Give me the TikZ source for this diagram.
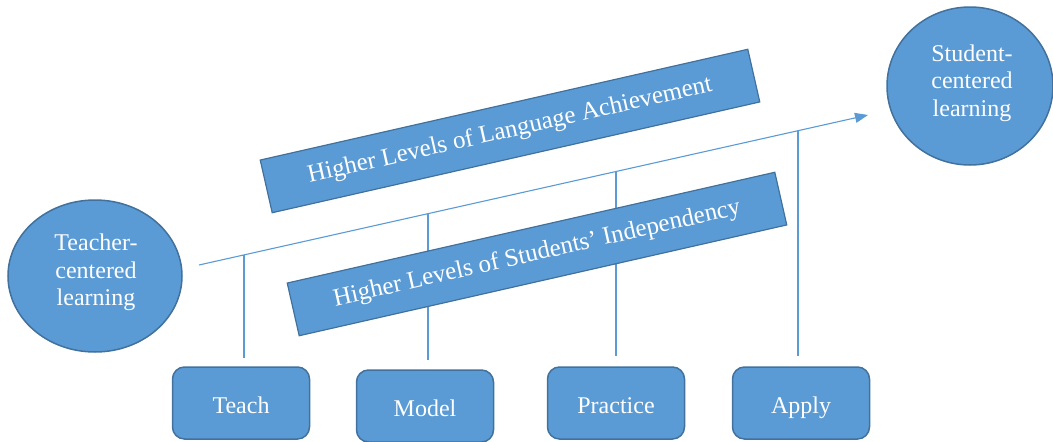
\documentclass[tikz,border=0pt]{standalone}
\usepackage{fontspec}
\setmainfont{Liberation Serif}
\usetikzlibrary{shapes.geometric,arrows.meta,calc}
\definecolor{fillblue}{HTML}{5B9BD5}
\definecolor{edgeblue}{HTML}{41719C}
\begin{document}
\begin{tikzpicture}[x=1pt,y=-1pt,
  every node/.style={font=\fontsize{24}{27.5}\selectfont, text=white},
  oval/.style={ellipse, fill=fillblue, draw=edgeblue, line width=1.5pt, inner sep=0pt, align=center},
  banner/.style={rectangle, fill=fillblue, draw=edgeblue, line width=1.2pt, minimum width=500pt, minimum height=54pt, inner sep=0pt, rotate=12.8, font=\fontsize{25}{28}\selectfont},
  stepbox/.style={rectangle, rounded corners=12pt, fill=fillblue, draw=edgeblue, line width=1.5pt, minimum width=137pt, minimum height=72pt, inner sep=0pt, text height=22pt, text depth=1pt},
  link/.style={draw=fillblue, line width=1.1pt}]
\useasboundingbox (0,0) rectangle (1053,442);
% circles
\node[oval, minimum width=174pt, minimum height=152pt] (tcl) at (95,276) {};
\node[align=center] (tclt) at (96,272.5) {Teacher-\\centered\\learning};
\node[oval, minimum width=166pt, minimum height=158pt] (scl) at (970,86) {};
\node[align=center] (sclt) at (972,83) {Student-\\centered\\learning};
% boxes
\node[stepbox] (teach) at (241,403) {Teach};
\node[stepbox] (model) at (425,406) {Model};
\node[stepbox] (practice) at (616,403) {Practice};
\node[stepbox] (apply) at (801,403) {Apply};
% arrow
\coordinate (a0) at (199,265);
\coordinate (a1) at (868,115);
\draw[link, -{Triangle[length=13pt,width=10pt]}] (a0) -- (a1);
% vertical connectors
\coordinate (p1) at ($(a0)!0.0673!(a1)$);
\coordinate (p2) at ($(a0)!0.3423!(a1)$);
\coordinate (p3) at ($(a0)!0.6233!(a1)$);
\coordinate (p4) at ($(a0)!0.8954!(a1)$);
\draw[link, shorten >=8pt] (p1) -- (p1 |- teach.north);
\draw[link, shorten >=9pt] (p2) -- (p2 |- model.north);
\draw[link, shorten >=10pt] (p3) -- (p3 |- practice.north);
\draw[link, shorten >=10pt] (p4) -- (p4 |- apply.north);
% banners (drawn over the connectors)
\node[banner] (hla) at (510,131) {Higher Levels of Language Achievement};
\node[banner] (hsi) at (537,254) {Higher Levels of Students’ Independency};
\end{tikzpicture}
\end{document}
